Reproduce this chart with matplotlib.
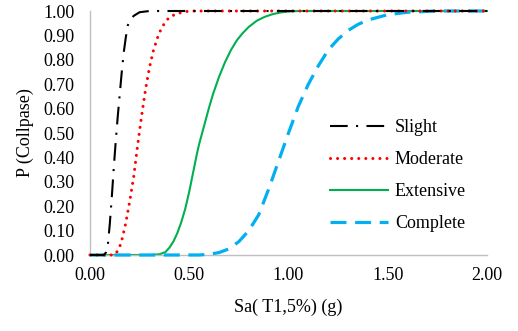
import matplotlib
matplotlib.use("Agg")
import matplotlib.pyplot as plt
from matplotlib.ticker import FormatStrFormatter

plt.rcParams['font.family'] = ['Liberation Serif', 'DejaVu Serif']

# Data
slight_x = [0, 0.07, 0.08, 0.09, 0.10, 0.11, 0.12, 0.13, 0.14, 0.15, 0.16, 0.17,
            0.18, 0.19, 0.20, 0.22, 0.25, 0.30, 2.0]
slight_p = [0, 0, 0.01, 0.04, 0.13, 0.24, 0.36, 0.47, 0.57, 0.66, 0.75, 0.83,
            0.89, 0.94, 0.96, 0.98, 0.995, 1.0, 1.0]

moderate_x = [0, 0.12, 0.135, 0.15, 0.16, 0.18, 0.20, 0.22, 0.24, 0.26, 0.28, 0.30,
              0.32, 0.34, 0.36, 0.38, 0.40, 0.44, 0.50, 2.0]
moderate_p = [0, 0, 0.012, 0.035, 0.06, 0.13, 0.22, 0.32, 0.45, 0.57, 0.68, 0.77,
              0.84, 0.89, 0.93, 0.955, 0.975, 0.99, 1.0, 1.0]

extensive_x = [0, 0.30, 0.35, 0.38, 0.40, 0.42, 0.44, 0.46, 0.48, 0.50, 0.52, 0.54,
               0.55, 0.57, 0.60, 0.62, 0.65, 0.68, 0.71, 0.74, 0.77, 0.80, 0.84,
               0.88, 0.92, 0.96, 1.00, 1.05, 2.0]
extensive_p = [0, 0, 0.003, 0.012, 0.03, 0.055, 0.09, 0.135, 0.19, 0.26, 0.34, 0.42,
               0.455, 0.515, 0.605, 0.66, 0.73, 0.79, 0.84, 0.88, 0.91, 0.935, 0.96,
               0.976, 0.987, 0.994, 0.998, 1.0, 1.0]

complete_x = [0, 0.55, 0.60, 0.65, 0.70, 0.75, 0.80, 0.85, 0.90, 0.95, 1.00, 1.05,
              1.10, 1.15, 1.20, 1.25, 1.30, 1.35, 1.40, 1.50, 1.60, 1.75, 2.0]
complete_p = [0, 0, 0.003, 0.01, 0.025, 0.055, 0.10, 0.165, 0.27, 0.385, 0.50, 0.61,
              0.70, 0.775, 0.84, 0.885, 0.92, 0.945, 0.963, 0.985, 0.995, 1.0, 1.0]

labels = ["Slight", "Moderate", "Extensive", "Complete"]
x_ticks = [0.0, 0.5, 1.0, 1.5, 2.0]
y_ticks = [0.0, 0.1, 0.2, 0.3, 0.4, 0.5, 0.6, 0.7, 0.8, 0.9, 1.0]

fig = plt.figure(figsize=(5.18, 3.31), dpi=100)
ax = fig.add_axes([90/518, 1-255/331, 397/518, 244/331])

ax.plot(extensive_x, extensive_p, color='#00B050', lw=1.5, label=labels[2], clip_on=False, zorder=2)
ax.plot(complete_x, complete_p, color='#00B0F0', lw=2.3, linestyle=(0, (5, 2.7)),
        label=labels[3], clip_on=False, zorder=3)
ax.plot(moderate_x, moderate_p, color='#FF0000', lw=2.2, linestyle=(0, (0.01, 2.3)),
        dash_capstyle='round', label=labels[1], clip_on=False, zorder=4)
ax.plot(slight_x, slight_p, color='black', lw=1.5, linestyle=(0, (8.5, 4, 1, 4)),
        label=labels[0], clip_on=False, zorder=5)

ax.set_xlim(0, 2)
ax.set_ylim(0, 1)
ax.set_xticks(x_ticks)
ax.set_yticks(y_ticks)
ax.xaxis.set_major_formatter(FormatStrFormatter('%.2f'))
ax.yaxis.set_major_formatter(FormatStrFormatter('%.2f'))
ax.tick_params(axis='both', length=0, labelsize=13)
ax.tick_params(axis='y', pad=11)
ax.tick_params(axis='x', pad=9)
for s in ['top', 'right']:
    ax.spines[s].set_visible(False)
for s in ['left', 'bottom']:
    ax.spines[s].set_color('#BFBFBF')
    ax.spines[s].set_linewidth(1.0)

ax.set_xlabel("Sa( T1,5%) (g)", fontsize=13, labelpad=10)
ax.set_ylabel("P (Collpase)", fontsize=13, labelpad=7)

handles, labs = ax.get_legend_handles_labels()
order = [labs.index(l) for l in labels]
leg = ax.legend([handles[i] for i in order], [labs[i] for i in order],
                loc='upper left', bbox_to_anchor=(330/518, 1-119/331),
                bbox_transform=fig.transFigure, frameon=False, fontsize=13,
                handlelength=3.2, handletextpad=0.4, labelspacing=0.83, borderpad=0,
                borderaxespad=0)

fig.savefig("out.png", dpi=100)
